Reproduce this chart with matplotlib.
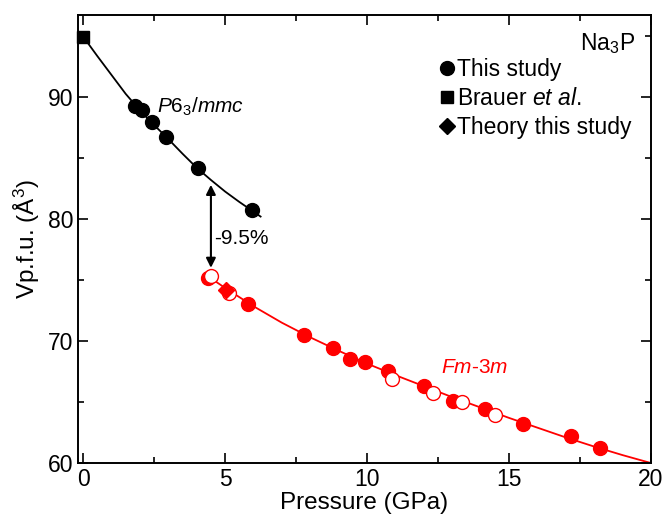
import matplotlib
matplotlib.use('Agg')
import matplotlib.pyplot as plt
from matplotlib.lines import Line2D
from matplotlib.ticker import MultipleLocator

plt.rcParams['font.family'] = ['Liberation Sans', 'DejaVu Sans']
plt.rcParams['mathtext.fontset'] = 'custom'
plt.rcParams['mathtext.rm'] = 'Liberation Sans'
plt.rcParams['mathtext.it'] = 'Liberation Sans:italic'

# P6_3/mmc phase (this study, black)
hex_p = [1.81, 2.06, 2.43, 2.91, 4.03, 5.96]
hex_v = [89.3, 88.95, 87.95, 86.75, 84.15, 80.7]
# Brauer et al.
brauer_p = [0.0]
brauer_v = [94.9]
# EOS fit curve, hexagonal phase
hex_fit_p = [-0.18, 0.0, 0.5, 1.0, 1.5, 2.0, 2.5, 3.0, 3.5, 4.0, 4.5, 5.0, 5.5, 6.0, 6.25]
hex_fit_v = [95.4, 94.95, 93.35, 91.8, 90.25, 88.9, 87.7, 86.55, 85.35, 84.2, 83.2, 82.25, 81.4, 80.6, 80.2]

# Fm-3m phase, filled circles
cub_p = [4.39, 5.82, 7.79, 8.81, 9.41, 9.91, 10.72, 12.02, 13.04, 14.17, 15.5, 17.2, 18.2]
cub_v = [75.2, 73.05, 70.5, 69.45, 68.55, 68.25, 67.55, 66.3, 65.05, 64.4, 63.2, 62.2, 61.2]
# Fm-3m phase, open circles
cub_open_p = [4.5, 5.14, 10.89, 12.31, 13.33, 14.52]
cub_open_v = [75.35, 73.9, 66.9, 65.75, 65.0, 63.95]
# theory point
theory_p = [5.02]
theory_v = [74.2]
# EOS fit curve, cubic phase
cub_fit_p = [4.4, 5.0, 6.0, 7.0, 8.0, 9.0, 10.0, 11.0, 12.0, 13.0, 14.0, 15.0, 16.0, 17.0, 18.0, 19.0, 20.0]
cub_fit_v = [75.3, 74.35, 72.85, 71.5, 70.3, 69.2, 68.15, 67.2, 66.3, 65.4, 64.55, 63.7, 62.9, 62.1, 61.35, 60.65, 60.0]

fig = plt.figure(figsize=(6.67, 5.25), dpi=100)
ax = fig.add_axes([0.117, 0.118, 0.859, 0.853])

red = '#ff0000'
ms_c = 10

ax.plot(hex_fit_p, hex_fit_v, color='black', lw=1.3, zorder=2)
ax.plot(cub_fit_p, cub_fit_v, color=red, lw=1.3, zorder=2)

ax.plot(hex_p, hex_v, 'o', color='black', ms=ms_c, zorder=3)
ax.plot(brauer_p, brauer_v, 's', color='black', ms=8.5, zorder=3, clip_on=False)
ax.plot(cub_p, cub_v, 'o', color=red, ms=ms_c, zorder=3)
ax.plot(cub_open_p, cub_open_v, 'o', mfc='white', mec=red, mew=1.0, ms=ms_c, zorder=4)
ax.plot(theory_p, theory_v, 'D', color=red, ms=8, zorder=5)

# transition arrow
ax.annotate('', xy=(4.5, 82.8), xytext=(4.5, 76.0),
            arrowprops=dict(arrowstyle='<|-|>', color='black', lw=1.5,
                            mutation_scale=14, shrinkA=0, shrinkB=0))
ax.text(4.62, 78.4, '-9.5%', fontsize=15, va='center', ha='left')

ax.text(2.6, 89.2, r'$P6_3/mmc$', fontsize=15, ha='left', va='center')
ax.text(13.77, 67.8, r'$Fm$-$3m$', fontsize=15, color=red, ha='center', va='center')
ax.text(0.972, 0.965, r'Na$_3$P', fontsize=16.5, ha='right', va='top', transform=ax.transAxes)

handles = [Line2D([], [], marker='o', ls='none', color='black', ms=ms_c),
           Line2D([], [], marker='s', ls='none', color='black', ms=8.5),
           Line2D([], [], marker='D', ls='none', color='black', ms=8)]
labels = ['This study', r'Brauer $et\ al.$', 'Theory this study']
ax.legend(handles, labels, loc='upper right', bbox_to_anchor=(0.99, 0.935),
          frameon=False, fontsize=16.5, handlelength=0.6, handletextpad=0.15,
          labelspacing=0.25, borderaxespad=0.2)

ax.set_xlim(-0.18, 20)
ax.set_ylim(60, 96.7)
ax.xaxis.set_major_locator(MultipleLocator(5))
ax.xaxis.set_minor_locator(MultipleLocator(2.5))
ax.yaxis.set_major_locator(MultipleLocator(10))
ax.yaxis.set_minor_locator(MultipleLocator(5))
ax.tick_params(which='both', direction='in', top=True, right=True, width=1.2)
ax.tick_params(which='major', length=7, labelsize=16.5)
ax.tick_params(which='minor', length=4)
for s in ax.spines.values():
    s.set_linewidth(1.4)

ax.set_xlabel('Pressure (GPa)', fontsize=17.5, labelpad=1)
ax.set_ylabel(r'Vp.f.u. (Å$^3$)', fontsize=17.5, labelpad=4)

fig.savefig('out.png', dpi=100)
